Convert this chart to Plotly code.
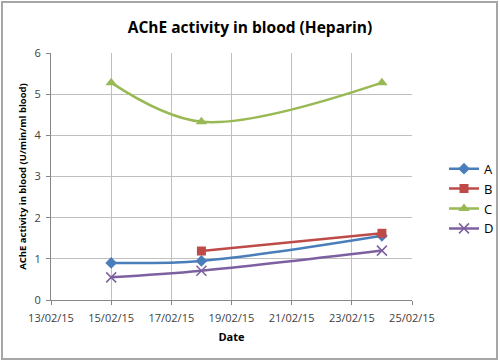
import plotly.graph_objects as go

dates_A = ["2015-02-15", "2015-02-18", "2015-02-24"]
vals_A = [0.90, 0.95, 1.56]
dates_B = ["2015-02-18", "2015-02-24"]
vals_B = [1.19, 1.62]
dates_C = ["2015-02-15", "2015-02-18", "2015-02-24"]
vals_C = [5.28, 4.33, 5.28]
dates_D = ["2015-02-15", "2015-02-18", "2015-02-24"]
vals_D = [0.55, 0.71, 1.20]

FONT = "Open Sans"

fig = go.Figure()
fig.add_trace(go.Scatter(x=dates_A, y=vals_A, name="A", mode="lines+markers",
                         line=dict(color="#4A7EBB", width=2.5, shape="spline", smoothing=1),
                         marker=dict(symbol="diamond", size=9, color="#4A7EBB")))
fig.add_trace(go.Scatter(x=dates_B, y=vals_B, name="B", mode="lines+markers",
                         line=dict(color="#BE4B48", width=2.5, shape="spline", smoothing=1),
                         marker=dict(symbol="square", size=9, color="#BE4B48")))
fig.add_trace(go.Scatter(x=dates_C, y=vals_C, name="C", mode="lines+markers",
                         line=dict(color="#98B954", width=2.5, shape="spline", smoothing=1),
                         marker=dict(symbol="triangle-up", size=10, color="#98B954")))
fig.add_trace(go.Scatter(x=dates_D, y=vals_D, name="D", mode="lines+markers",
                         line=dict(color="#7D60A0", width=2.5, shape="spline", smoothing=1),
                         marker=dict(symbol="x-thin", size=10, color="#7D60A0",
                                     line=dict(color="#7D60A0", width=1.5))))

fig.update_layout(
    width=500, height=362,
    margin=dict(l=51, r=88, t=53, b=62, autoexpand=False),
    paper_bgcolor="white", plot_bgcolor="white",
    font=dict(family=FONT, size=11, color="#404040"),
    title=dict(text="<b>AChE activity in blood (Heparin)</b>", x=0.5, xref="container",
               xanchor="center", y=1 - 28 / 362, yref="container", yanchor="middle",
               font=dict(size=15.5, color="#000000")),
    showlegend=True,
    legend=dict(x=(444 - 51) / 361, xanchor="left", y=0.41, yanchor="middle",
                font=dict(size=13, color="#000000"), tracegroupgap=0,
                itemwidth=30, bgcolor="rgba(0,0,0,0)"),
    xaxis=dict(type="date", range=["2015-02-13", "2015-02-25"],
               tick0="2015-02-13", dtick=2 * 86400000, tickformat="%d/%m/%y",
               showgrid=True, gridcolor="#BFBFBF", gridwidth=1,
               showline=True, linecolor="#868686", linewidth=1,
               ticks="outside", ticklen=4, tickcolor="#868686",
               ticklabelstandoff=4, automargin=False,
               title=dict(text="<b>Date</b>", font=dict(size=11, color="#000000"), standoff=9),
               zeroline=False),
    yaxis=dict(range=[0, 6], dtick=1,
               showgrid=True, gridcolor="#BFBFBF", gridwidth=1,
               showline=True, linecolor="#868686", linewidth=1,
               ticks="outside", ticklen=4, tickcolor="#868686",
               ticklabelstandoff=3, automargin=False,
               title=dict(text="<b>AChE activity in blood (U/min/ml blood)</b>",
                          font=dict(size=9.5, color="#000000"), standoff=6),
               zeroline=False),
)

fig.add_shape(type="rect", xref="paper", yref="paper",
              x0=(2 - 51) / 361, x1=(497 - 51) / 361,
              y0=(300 - 359) / 247, y1=(300 - 2) / 247,
              line=dict(color="#A6A6A6", width=2), fillcolor="rgba(0,0,0,0)", layer="below")

fig.write_html("out.html", config={"displayModeBar": False},
               post_script="document.body.style.margin='0';")
